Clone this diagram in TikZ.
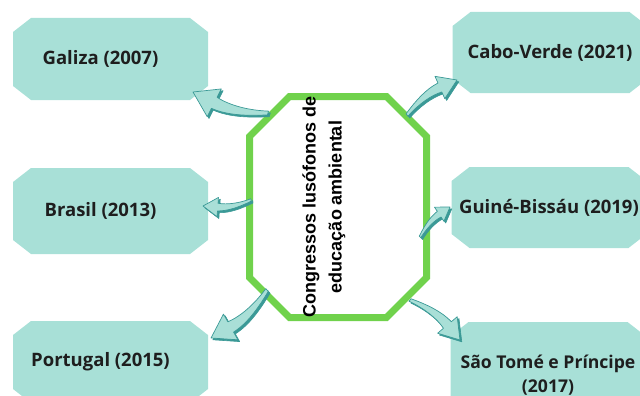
\documentclass[tikz,border=0pt]{standalone}
\usepackage{fontspec}
\setmainfont{Open Sans}
\newfontfamily\hubfont{Liberation Sans}
\usepackage{tikz}
\usetikzlibrary{calc}
\usepackage{xcolor}
\definecolor{BoxTeal}{HTML}{A8E0D7}
\definecolor{BoxText}{HTML}{1E1E1E}
\definecolor{ArrowTeal}{HTML}{A9DFD7}
\definecolor{ArrowDark}{HTML}{3A9996}
\definecolor{HubGreen}{HTML}{70D24C}

% bent block arrow, unit frame: tail (0,0), tip (1,0)
\newcommand{\arrowpath}{(0,-0.025) .. controls (0.25,0.035) and (0.5,0.04) .. (0.684,-0.018)
  -- (0.661,-0.136) -- (1,0) -- (0.739,0.256) -- (0.716,0.138)
  .. controls (0.5,0.17) and (0.25,0.11) .. (0,0.025) -- cycle}
\newcommand{\bentarrow}[2]{%
  \path let \p1=($(#2)-(#1)$) in \pgfextra{%
    \pgfmathsetmacro\arrang{atan2(\y1,\x1)}%
    \pgfmathsetmacro\arrlen{veclen(\x1,\y1)}%
    \global\let\arrang\arrang \global\let\arrlen\arrlen};
  \begin{scope}[shift={(#1)},xshift=1.8pt,yshift=-1.8pt,rotate=\arrang,x=\arrlen pt,y=\arrlen pt]
    \filldraw[ArrowDark,line width=0.6pt,line join=round] \arrowpath;
  \end{scope}
  \begin{scope}[shift={(#1)},rotate=\arrang,x=\arrlen pt,y=\arrlen pt]
    \filldraw[fill=ArrowTeal,draw=ArrowDark,line width=0.7pt,line join=round] \arrowpath;
  \end{scope}}

\begin{document}
\begin{tikzpicture}[x=1pt,y=-1pt,
    % cut corners: x cut, y cut, inset, look
    chamfer/.style n args={4}{path picture={
      \path[#4] ($(path picture bounding box.north west)+(#1+#3,#3)$)
        -- ($(path picture bounding box.north east)+(-#1-#3,#3)$)
        -- ($(path picture bounding box.north east)+(-#3,#2+#3)$)
        -- ($(path picture bounding box.south east)+(-#3,-#2-#3)$)
        -- ($(path picture bounding box.south east)+(-#1-#3,-#3)$)
        -- ($(path picture bounding box.south west)+(#1+#3,-#3)$)
        -- ($(path picture bounding box.south west)+(#3,-#2-#3)$)
        -- ($(path picture bounding box.north west)+(#3,#2+#3)$) -- cycle;}},
    lbl/.style={font=\bfseries\fontsize{18.5}{24}\selectfont,text=BoxText,align=center},
    box/.style={rectangle,chamfer={18}{14}{0}{fill=BoxTeal},
      minimum width=195pt,minimum height=82pt,inner sep=2pt,lbl},
    leftbox/.style={box,label={[lbl,xshift=-10pt]center:#1}},
    hub/.style={rectangle,chamfer={40}{40}{3.5}{draw=HubGreen,line width=7pt,line join=miter},
      minimum width=184pt,minimum height=228pt},
    hubtext/.style={font=\hubfont\bfseries\fontsize{18}{26}\selectfont,align=center}]
  \useasboundingbox (0,0) rectangle (640,396);

  % countries
  \node[leftbox=Galiza (2007)] (galiza) at (110.5,59) {};
  \node[leftbox=Brasil (2013),minimum height=86pt] (brasil) at (110.5,211) {};
  \node[leftbox=Portugal (2015)] (portugal) at (110.5,362) {};
  \node[box,minimum height=81pt] (cabo) at (550,52.5) {Cabo-Verde (2021)};
  \node[box,minimum height=81pt,xshift=-1pt] (guine) at (550,207.5) {Guiné-Bissáu (2019)};
  \node[box,minimum height=106pt,font=\bfseries\fontsize{17.6}{24}\selectfont] (saotome) at (548,375) {São Tomé e Príncipe\\(2017)};

  % congress
  \node[hub] (hub) at (338,207) {};
  \node[hubtext,rotate=90] (title) at (324,207) {Congressos lusófonos de\\educação ambiental};

  % arrow ends
  \coordinate (galiza-tail) at (268,113);   \coordinate (galiza-tip) at (193,92);
  \coordinate (brasil-tail) at (251,200);   \coordinate (brasil-tip) at (203,206);
  \coordinate (portugal-tail) at (267,290); \coordinate (portugal-tip) at (211,338);
  \coordinate (cabo-tail) at (407,115);     \coordinate (cabo-tip) at (457,80);
  \coordinate (guine-tail) at (420,237);    \coordinate (guine-tip) at (450,207);
  \coordinate (saotome-tail) at (410,300);  \coordinate (saotome-tip) at (460,340);

  \bentarrow{galiza-tail}{galiza-tip}
  \bentarrow{brasil-tail}{brasil-tip}
  \bentarrow{portugal-tail}{portugal-tip}
  \bentarrow{cabo-tail}{cabo-tip}
  \bentarrow{guine-tail}{guine-tip}
  \bentarrow{saotome-tail}{saotome-tip}
\end{tikzpicture}
\end{document}
